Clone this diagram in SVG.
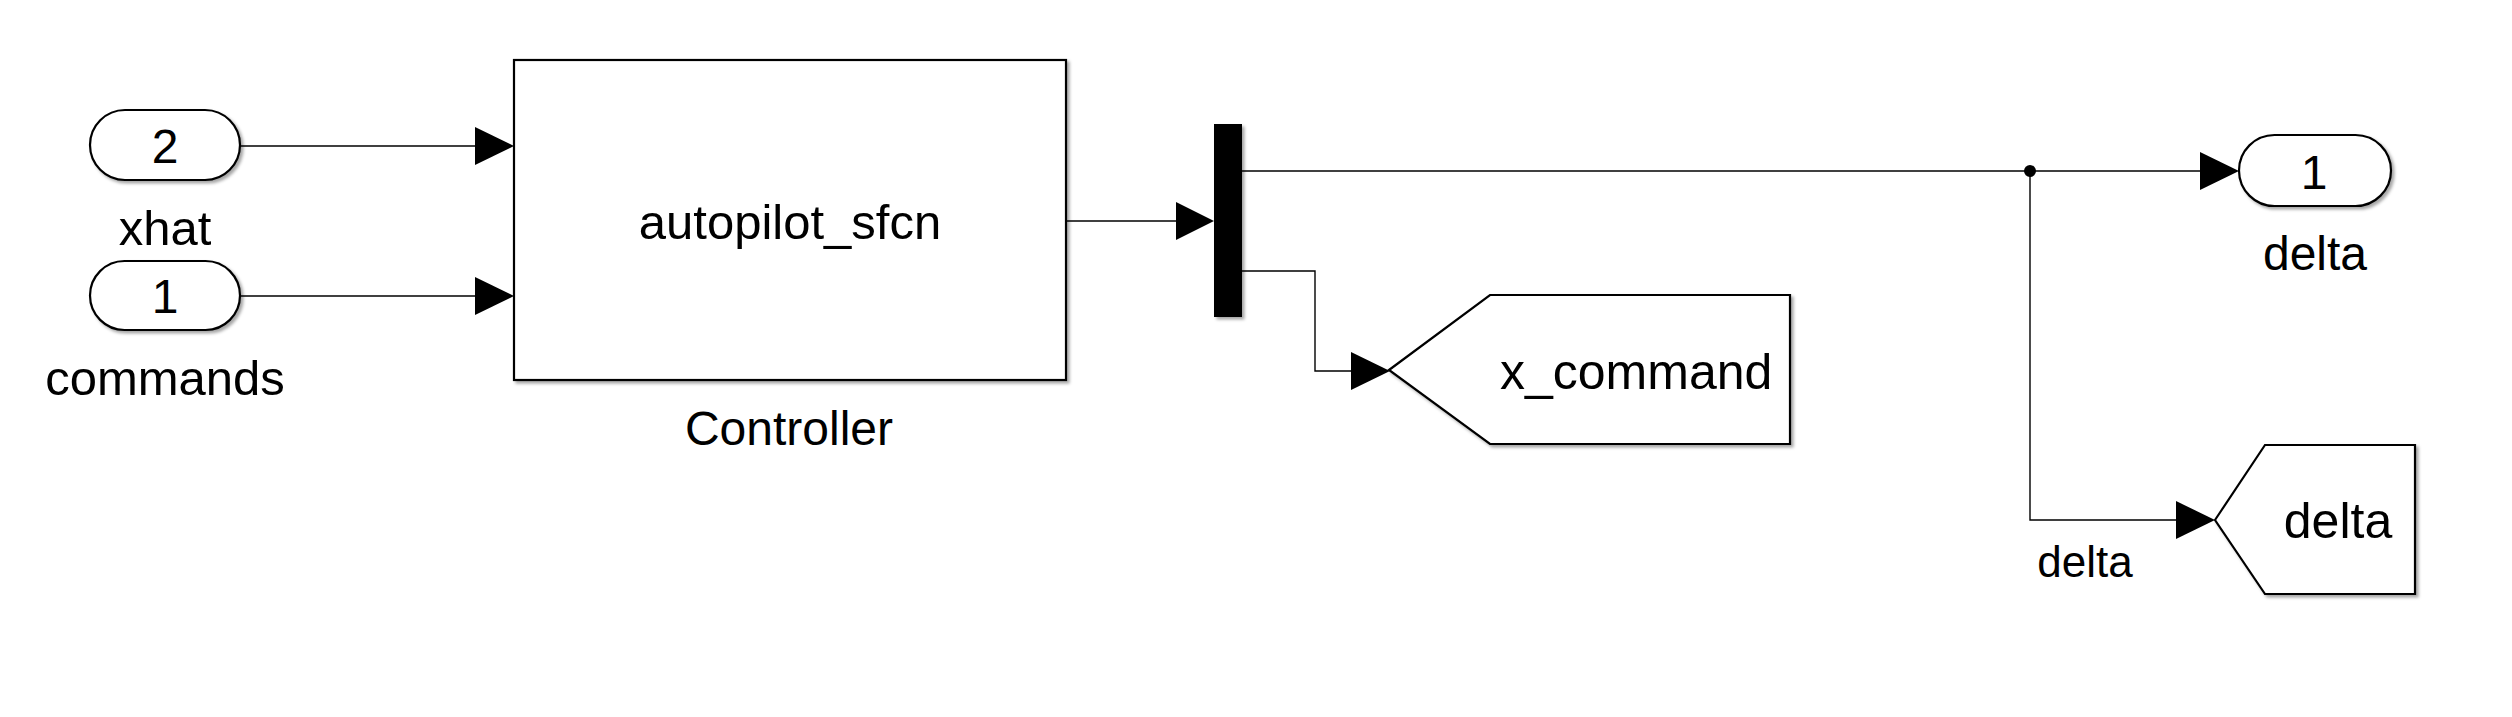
<svg xmlns="http://www.w3.org/2000/svg" width="2512" height="717" viewBox="0 0 2512 717">
<style>
  .blk { fill: #ffffff; stroke: #000000; stroke-width: 2.2; filter: url(#sh); }
  .bar { fill: #000000; filter: url(#sh); }
  .ln { fill: none; stroke: #000000; stroke-width: 1.4; }
  .ah { fill: #000000; }
  text { font-family: "Liberation Sans", Arial, sans-serif; fill: #000000; }
  .c { text-anchor: middle; }
</style>
<defs>
  <filter id="sh" x="-10%" y="-10%" width="130%" height="130%">
    <feDropShadow dx="2.5" dy="2.5" stdDeviation="1.8" flood-color="#000000" flood-opacity="0.35"/>
  </filter>
</defs>
<rect width="2512" height="717" fill="#ffffff"/>

<g id="connectors">
  <path class="ln" d="M240,146 H476"/>
  <polygon class="ah" points="475,127 514,146 475,165"/>
  <path class="ln" d="M240,296 H476"/>
  <polygon class="ah" points="475,277 514,296 475,315"/>
  <path class="ln" d="M1066,221 H1177"/>
  <polygon class="ah" points="1176,202 1214,221 1176,240"/>
  <path class="ln" d="M1242,171 H2201"/>
  <polygon class="ah" points="2200,152 2239,171 2200,190"/>
  <circle cx="2030" cy="171" r="6" fill="#000000"/>
  <path class="ln" d="M2030,171 V520 H2177"/>
  <polygon class="ah" points="2176,501 2215,520 2176,539"/>
  <text x="2085" y="577" class="c" font-size="44">delta</text>
  <path class="ln" d="M1242,271 H1315 V371 H1352"/>
  <polygon class="ah" points="1351,352 1390,371 1351,390"/>
</g>

<g id="in_xhat">
  <rect class="blk" x="90" y="110" width="150" height="70" rx="35" ry="35"/>
  <text x="165" y="163" class="c" font-size="48">2</text>
  <text x="165" y="245" class="c" font-size="49">xhat</text>
</g>

<g id="in_commands">
  <rect class="blk" x="90" y="261" width="150" height="69" rx="34.5" ry="34.5"/>
  <text x="165" y="313" class="c" font-size="48">1</text>
  <text x="165" y="395" class="c" font-size="49">commands</text>
</g>

<g id="controller">
  <rect class="blk" x="514" y="60" width="552" height="320"/>
  <text x="790" y="239" class="c" font-size="49">autopilot_sfcn</text>
  <text x="789" y="445" class="c" font-size="48">Controller</text>
</g>

<g id="mux">
  <rect class="bar" x="1214" y="124" width="28" height="193"/>
</g>

<g id="goto_x_command">
  <polygon class="blk" points="1389,370 1490,295 1790,295 1790,444 1490,444"/>
  <text x="1500" y="389" font-size="50">x_command</text>
</g>

<g id="out_delta">
  <rect class="blk" x="2239" y="135" width="152" height="71" rx="35.5" ry="35.5"/>
  <text x="2314" y="189" class="c" font-size="48">1</text>
  <text x="2315" y="270" class="c" font-size="48">delta</text>
</g>

<g id="goto_delta">
  <polygon class="blk" points="2215,520 2265,445 2415,445 2415,594 2265,594"/>
  <text x="2338" y="538" class="c" font-size="50">delta</text>
</g>
</svg>
